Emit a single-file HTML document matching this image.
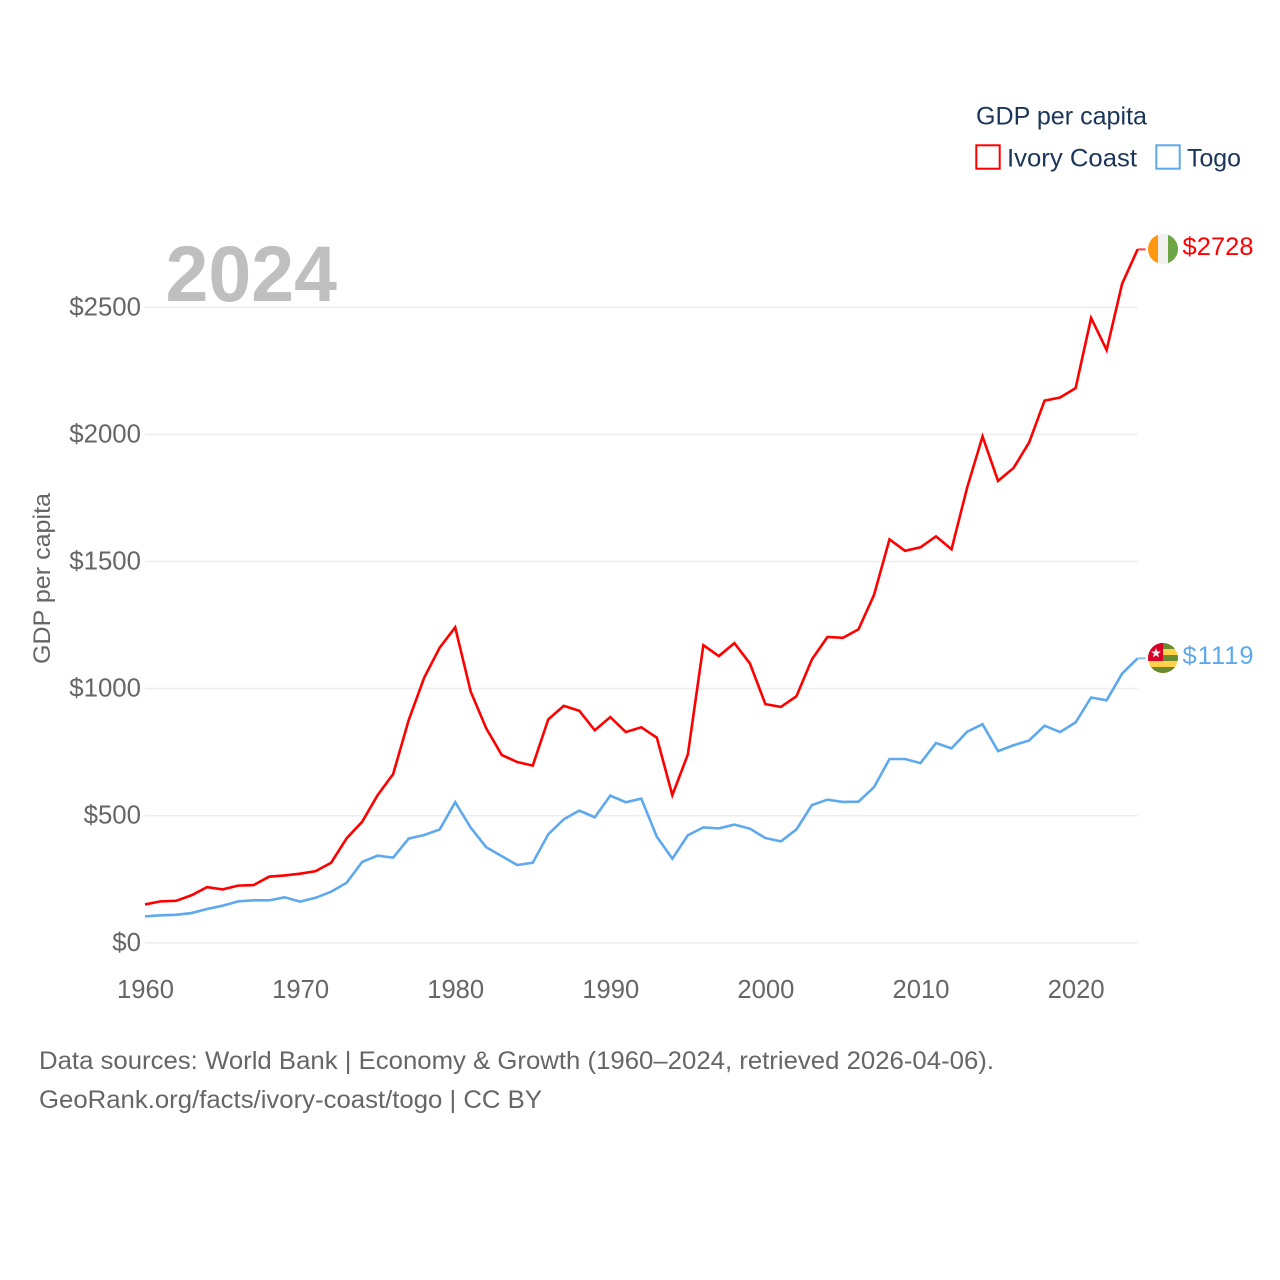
<!DOCTYPE html>
<html lang="en">
<head>
<meta charset="utf-8">
<title>GDP per capita: Ivory Coast and Togo</title>
<style>
html,body{margin:0;padding:0;background:#fff;}
svg{display:block;}
text{font-family:"Liberation Sans",sans-serif;}
</style>
</head>
<body>
<svg id="chart" xmlns="http://www.w3.org/2000/svg" width="1280" height="1280" viewBox="0 0 1280 1280">
  <rect x="0" y="0" width="1280" height="1280" fill="#ffffff"/>
  <g id="grid"></g>
  <g id="y-ticks"></g>
  <g id="x-ticks"></g>
  <text x="165.5" y="301" font-size="79" font-weight="700" fill="#bfbfbf" textLength="171.5" lengthAdjust="spacingAndGlyphs">2024</text>
  <text transform="translate(50,664) rotate(-90)" x="0" y="0" font-size="24.5" fill="#666666" textLength="171" lengthAdjust="spacingAndGlyphs">GDP per capita</text>
  <g id="series"></g>

  <g>
    <text x="976" y="124.5" font-size="25" fill="#1a3557" textLength="171" lengthAdjust="spacingAndGlyphs">GDP per capita</text>
    <rect x="976.3" y="145.3" width="23.4" height="23.4" fill="none" stroke="#ff0000" stroke-width="2"/>
    <text x="1007" y="166.5" font-size="25" fill="#1a3557" textLength="130" lengthAdjust="spacingAndGlyphs">Ivory Coast</text>
    <rect x="1156.3" y="145.3" width="23.4" height="23.4" fill="none" stroke="#5ea9ee" stroke-width="2"/>
    <text x="1187" y="166.5" font-size="25" fill="#1a3557" textLength="54" lengthAdjust="spacingAndGlyphs">Togo</text>
  </g>

  <defs>
    <clipPath id="flag-clip-ci"><circle cx="1163" cy="249" r="15"/></clipPath>
    <clipPath id="flag-clip-tg"><circle cx="1163" cy="658" r="15"/></clipPath>
  </defs>
  <g clip-path="url(#flag-clip-ci)">
    <rect x="1148" y="234" width="30" height="30" fill="#f0f0f0"/>
    <rect x="1148" y="234" width="10" height="30" fill="#ff9811"/>
    <rect x="1168" y="234" width="10" height="30" fill="#6da544"/>
  </g>
  <g clip-path="url(#flag-clip-tg)">
    <rect x="1148" y="643" width="30" height="30" fill="#ffd24a"/>
    <rect x="1148" y="643" width="30" height="6" fill="#6a8a2f"/>
    <rect x="1148" y="655" width="30" height="6" fill="#6a8a2f"/>
    <rect x="1148" y="667" width="30" height="6" fill="#6a8a2f"/>
    <rect x="1148" y="643" width="15" height="18" fill="#d80027"/>
    <polygon points="1156,648 1157.3,651.5 1161,651.5 1158,653.8 1159.1,657.5 1156,655.3 1152.9,657.5 1154,653.8 1151,651.5 1154.7,651.5" fill="#f0f0f0"/>
  </g>

  <g>
    <text x="39" y="1069" font-size="25" fill="#666666" textLength="955" lengthAdjust="spacingAndGlyphs">Data sources: World Bank | Economy &amp; Growth (1960–2024, retrieved 2026-04-06).</text>
    <text x="39" y="1108" font-size="25" fill="#666666" textLength="503" lengthAdjust="spacingAndGlyphs">GeoRank.org/facts/ivory-coast/togo | CC BY</text>
  </g>
</svg>
<script>
const years = [1960,1961,1962,1963,1964,1965,1966,1967,1968,1969,1970,1971,1972,1973,1974,1975,1976,1977,1978,1979,1980,1981,1982,1983,1984,1985,1986,1987,1988,1989,1990,1991,1992,1993,1994,1995,1996,1997,1998,1999,2000,2001,2002,2003,2004,2005,2006,2007,2008,2009,2010,2011,2012,2013,2014,2015,2016,2017,2018,2019,2020,2021,2022,2023,2024];
const ivoryCoastValues = [151,163,165,187,219,210,225,227,260,265,272,282,315,411,476,581,664,876,1043,1161,1241,988,844,739,711,697,879,932,913,836,888,829,848,807,581,741,1171,1128,1179,1099,939,928,970,1115,1203,1200,1233,1368,1587,1542,1556,1599,1548,1789,1992,1817,1868,1968,2133,2145,2182,2458,2332,2593,2728];
const togoValues = [104,108,110,117,133,146,163,167,167,179,162,177,201,236,318,343,335,410,424,446,553,453,376,341,306,315,427,486,520,494,579,553,567,417,331,423,454,450,465,449,412,399,446,542,563,554,555,612,723,723,707,786,765,830,860,754,777,796,854,829,867,965,954,1059,1119];
const yTickValues = [0,500,1000,1500,2000,2500];
const xTickValues = [1960,1970,1980,1990,2000,2010,2020];

const SVG_NS = 'http://www.w3.org/2000/svg';
function xScale(year){ return 145 + (year - 1960) * 15.51; }
function yScale(value){ return 942.8 - value * 0.2542; }
function make(tag, attrs, parent){
  const el = document.createElementNS(SVG_NS, tag);
  for (const k in attrs) el.setAttribute(k, attrs[k]);
  parent.appendChild(el);
  return el;
}

const grid = document.getElementById('grid');
const yTicks = document.getElementById('y-ticks');
const xTicks = document.getElementById('x-ticks');
const seriesGroup = document.getElementById('series');

yTickValues.forEach(function(v){
  const line = make('line', {x1:xScale(1960), x2:xScale(2024), y1:yScale(v), y2:yScale(v), stroke:'#eeeeee', 'stroke-width':1.6}, grid);
  
  
  const t = make('text', {x:141, y:yScale(v) + 8, 'text-anchor':'end', 'font-size':25.8, fill:'#666666'}, yTicks);
  t.textContent = '$' + v;
  
  
});

xTickValues.forEach(function(y){
  const t = make('text', {x:xScale(y) + 0.5, y:998, 'text-anchor':'middle', 'font-size':25.6, fill:'#666666'}, xTicks);
  t.textContent = String(y);
  
  
});

function drawSeries(key, values, color){
  const last = values[values.length - 1];
  const points = values.map(function(v, i){ return xScale(years[i]).toFixed(2) + ',' + yScale(v).toFixed(2); }).join(' ');
  const line = make('polyline', {points:points, fill:'none', stroke:color, 'stroke-width':2.6, 'stroke-linejoin':'miter'}, seriesGroup);
  
  
  const stub = make('line', {x1:xScale(2024), x2:xScale(2024) + 8, y1:yScale(last), y2:yScale(last), stroke:color, 'stroke-width':2, opacity:0.75}, seriesGroup);
  
  
  const label = make('text', {x:1182.5, y:yScale(last) + 5.5, 'font-size':25.4, fill:color, textLength:71, lengthAdjust:'spacing'}, seriesGroup);
  label.textContent = '$' + last;
  
  
}

drawSeries('togo', togoValues, '#5ea9ee');
drawSeries('ivory-coast', ivoryCoastValues, '#ff0000');
</script>
</body>
</html>
